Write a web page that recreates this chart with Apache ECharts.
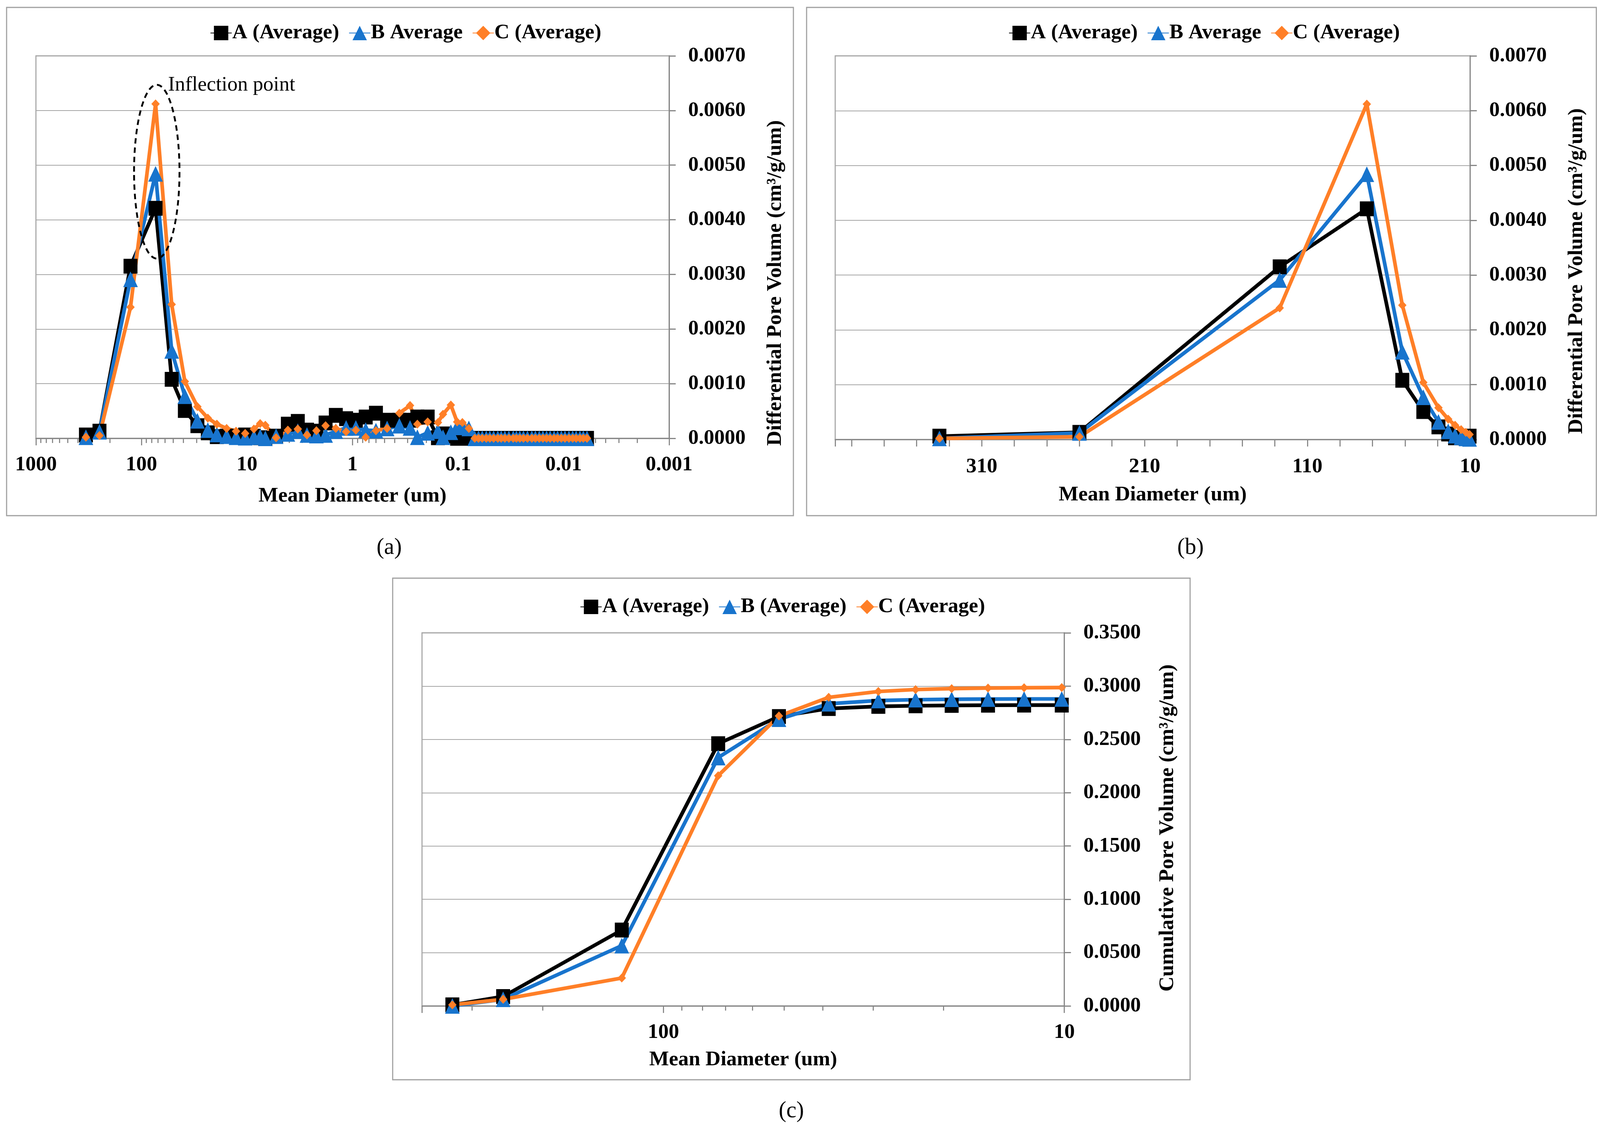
<!DOCTYPE html>
<html>
<head>
<meta charset="utf-8">
<title>Pore size distribution</title>
<script src="https://cdn.jsdelivr.net/npm/echarts@6.0.0/dist/echarts.min.js"></script>
<style>html,body{margin:0;padding:0;background:#fff;overflow:hidden;}</style>
</head>
<body>
<div id="main" style="width:100vw;height:100vh;"></div>
<script type="text/javascript">
// mean diameters (um) of the differential curves, panels (a) and (b)
var diameters = [336, 250, 127, 73.5, 51.7, 38.8, 29.5, 23.5, 19.3, 15.6,
    12.7, 10.4, 8.6, 7.5, 6.7, 5.3, 4.1, 3.3, 2.7, 2.2,
    1.8, 1.44, 1.15, 0.93, 0.75, 0.60, 0.47, 0.36, 0.285, 0.243,
    0.194, 0.155, 0.139, 0.117, 0.102, 0.091, 0.079, 0.0695, 0.064, 0.059,
    0.054, 0.050, 0.046, 0.042, 0.039, 0.036, 0.033, 0.030, 0.028, 0.026,
    0.024, 0.022, 0.020, 0.0185, 0.017, 0.0157, 0.0145, 0.0134, 0.0123, 0.0114,
    0.0105, 0.0097, 0.0089, 0.0082, 0.0076, 0.0070, 0.0065, 0.0060];

// differential pore volume (cm3/g/um)
var diffA = [0.00006, 0.00013, 0.00315, 0.00421, 0.00108, 0.00051, 0.00023, 0.00010, 0.00003, 0.00004,
    0.00004, 0.00006, 0.00004, 0.00001, 0.00000, 0.00004, 0.00026, 0.00031, 0.00015, 0.00013,
    0.00028, 0.00042, 0.00036, 0.00033, 0.00039, 0.00046, 0.00033, 0.00033, 0.00033, 0.00039,
    0.00039, 0.00001, 0.00008, 0.00004, 0.00000, 0.00002, 0.00000, 0.00000, 0, 0,
    0, 0, 0, 0, 0, 0, 0, 0, 0, 0,
    0, 0, 0, 0, 0, 0, 0, 0, 0, 0,
    0, 0, 0, 0, 0, 0, 0, 0];
var diffB = [0.00002, 0.00012, 0.00291, 0.00484, 0.00160, 0.00077, 0.00032, 0.00015, 0.00007, 0.00004,
    0.00002, 0.00001, 0.00002, 0.00003, 0.00000, 0.00004, 0.00008, 0.00013, 0.00006, 0.00005,
    0.00006, 0.00013, 0.00019, 0.00019, 0.00015, 0.00014, 0.00018, 0.00023, 0.00019, 0.00002,
    0.00010, 0.00013, 0.00002, 0.00011, 0.00021, 0.00020, 0.00018, 0.00000, 0, 0,
    0, 0, 0, 0, 0, 0, 0, 0, 0, 0,
    0, 0, 0, 0, 0, 0, 0, 0, 0, 0,
    0, 0, 0, 0, 0, 0, 0, 0];
var diffC = [0.00002, 0.00005, 0.00240, 0.00612, 0.00245, 0.00104, 0.00058, 0.00037, 0.00026, 0.00018,
    0.00013, 0.00009, 0.00017, 0.00027, 0.00024, 0.00001, 0.00015, 0.00017, 0.00006, 0.00014,
    0.00023, 0.00018, 0.00012, 0.00015, 0.00002, 0.00014, 0.00018, 0.00046, 0.00060, 0.00026,
    0.00030, 0.00029, 0.00044, 0.00061, 0.00030, 0.00029, 0.00018, 0.00000, 0, 0,
    0, 0, 0, 0, 0, 0, 0, 0, 0, 0,
    0, 0, 0, 0, 0, 0, 0, 0, 0, 0,
    0, 0, 0, 0, 0, 0, 0, 0];

// cumulative pore volume, panel (c)
var cumDiameters = [336, 251, 127, 73, 51.5, 38.7, 29.1, 23.5, 19.1, 15.5, 12.6, 10.15];
var cumA = [0.0010, 0.0088, 0.0712, 0.2460, 0.2715, 0.2790, 0.2810, 0.2816, 0.2819, 0.2821, 0.2822, 0.2822];
var cumB = [0.0000, 0.0062, 0.0565, 0.2330, 0.2690, 0.2835, 0.2865, 0.2873, 0.2877, 0.2879, 0.2880, 0.2880];
var cumC = [0.0010, 0.0062, 0.0262, 0.2160, 0.2720, 0.2895, 0.2950, 0.2968, 0.2977, 0.2982, 0.2985, 0.2987];

var legendAB = ['A (Average)', 'B Average', 'C (Average)'];
var legendC = ['A (Average)', 'B (Average)', 'C (Average)'];
var panelTags = ['(a)', '(b)', '(c)'];

// annotation on panel (a), in data units
var inflectionCenter = [71.6, 0.00488];
var inflectionTop = [71.6, 0.00647];
var inflectionLabelAt = [56, 0.00646];

// layout is measured on a 4364 x 2908 page, then fitted to the real viewport
var SX = window.innerWidth / 4364;
var SY = window.innerHeight / 2908;
function X(v) { return v * SX; }
function Y(v) { return v * SY; }

var SERIF = '"Liberation Serif", "Times New Roman", serif';
var FS = X(57);
var GRID_GREY = '#a6a6a6';
var AXIS_GREY = '#868686';

var chart = echarts.init(document.getElementById('main'));

function pairs(xs, ys, minX) {
    var out = [];
    for (var i = 0; i < xs.length; i++) {
        if (minX == null || xs[i] >= minX) out.push([xs[i], ys[i]]);
    }
    return out;
}

var looks = [
    {color: '#000000', symbol: 'rect', size: 38},
    {color: '#1874CD', symbol: 'triangle', size: 40},
    {color: '#FF7F27', symbol: 'diamond', size: 23}
];

function lineSeries(name, k, data, axis) {
    return {
        name: name, type: 'line', xAxisIndex: axis, yAxisIndex: axis,
        data: data, symbol: looks[k].symbol,
        symbolSize: [X(looks[k].size), Y(looks[k].size)],
        showAllSymbol: true,
        lineStyle: {color: looks[k].color, width: X(10)},
        itemStyle: {color: looks[k].color, borderWidth: 0},
        emphasis: {disabled: true}
    };
}

// drop = how far below the plot's middle the rotated title sits
function yAxisCfg(idx, max, step, name, gap, drop) {
    return {
        type: 'value', gridIndex: idx, position: 'right', min: 0, max: max, interval: step,
        name: name, nameLocation: 'middle', nameGap: X(gap),
        nameTextStyle: {fontFamily: SERIF, fontWeight: 'bold', fontSize: FS, color: '#000',
            padding: [0, Y(drop * 2), 0, 0]},
        axisLine: {show: true, lineStyle: {color: AXIS_GREY, width: X(3)}},
        axisTick: {show: true, length: X(18), lineStyle: {color: AXIS_GREY, width: Y(3)}},
        axisLabel: {margin: X(52), fontFamily: SERIF, fontWeight: 'bold', fontSize: FS, color: '#000',
            formatter: function (v) { return v.toFixed(4); }},
        splitLine: {show: true, lineStyle: {color: GRID_GREY, width: Y(2)}}
    };
}

function xName(gap) {
    return {
        name: 'Mean Diameter (um)', nameLocation: 'middle', nameGap: Y(gap),
        nameTextStyle: {fontFamily: SERIF, fontWeight: 'bold', fontSize: FS, color: '#000'},
        axisLine: {show: true, lineStyle: {color: AXIS_GREY, width: Y(3)}},
        axisTick: {show: true, length: Y(18), lineStyle: {color: AXIS_GREY, width: X(3)}},
        splitLine: {show: false}
    };
}

function numLabel(v) { return String(+Number(v).toPrecision(6)); }

function xLabel(margin, hideMax, fmt) {
    var o = {margin: Y(margin), fontFamily: SERIF, fontWeight: 'bold', fontSize: FS, color: '#000'};
    if (hideMax) o.showMaxLabel = false;
    if (fmt) o.formatter = fmt;
    return o;
}

var xa = Object.assign(xName(122), {
    type: 'log', logBase: 10, gridIndex: 0, min: 0.001, max: 1000, inverse: true,
    minorTick: {show: true, splitNumber: 9, length: Y(12), lineStyle: {color: AXIS_GREY, width: X(3)}},
    axisLabel: xLabel(42, false, numLabel)
});
var xb = Object.assign(xName(116), {
    type: 'value', gridIndex: 1, min: 10, max: 400, interval: 100, inverse: true,
    minorTick: {show: true, splitNumber: 5, length: Y(18), lineStyle: {color: AXIS_GREY, width: X(3)}},
    axisLabel: xLabel(44, true, null)
});
var xc = Object.assign(xName(112), {
    type: 'log', logBase: 10, gridIndex: 2, min: 10, max: 400, inverse: true,
    minorTick: {show: true, splitNumber: 9, length: Y(12), lineStyle: {color: AXIS_GREY, width: X(3)}},
    axisLabel: xLabel(42, true, numLabel)
});

function legendCfg(names, left, top) {
    return {
        data: names, left: X(left), top: Y(top), orient: 'horizontal',
        itemWidth: X(58), itemHeight: Y(46), itemGap: X(26), padding: 0,
        textStyle: {fontFamily: SERIF, fontWeight: 'bold', fontSize: FS, color: '#000', padding: [0, 0, 0, -X(4)]}
    };
}

function tagCfg(text, left, top) {
    return {text: text, left: X(left), top: Y(top), padding: 0,
        textStyle: {fontFamily: SERIF, fontWeight: 'normal', fontSize: X(62), color: '#000'}};
}

function frame(id, x, y, w, h) {
    return {type: 'rect', id: id, shape: {x: X(x), y: Y(y), width: X(w), height: Y(h)}, silent: true,
        style: {fill: 'none', stroke: '#a0a0a0', lineWidth: X(3)}, z: -1};
}

function gridAt(left, top, width, height) {
    return {left: X(left), top: Y(top), width: X(width), height: Y(height),
        show: true, borderColor: GRID_GREY, borderWidth: X(3), backgroundColor: '#fff'};
}

var option = {
    backgroundColor: '#ffffff',
    animation: false,
    title: [tagCfg(panelTags[0], 1027, 1374), tagCfg(panelTags[1], 3211, 1374), tagCfg(panelTags[2], 2124, 2816)],
    legend: [legendCfg(legendAB, 573, 58), legendCfg(legendAB, 2751, 58), legendCfg(legendC, 1582, 1527)],
    grid: [
        gridAt(98, 143, 1727, 979),
        gridAt(2278, 143, 1732, 982),
        gridAt(1151, 1620, 1752, 955)
    ],
    xAxis: [xa, xb, xc],
    yAxis: [
        yAxisCfg(0, 0.007, 0.001, 'Differential Pore Volume (cm³/g/um)', 262, 92),
        yAxisCfg(1, 0.007, 0.001, 'Differential Pore Volume (cm³/g/um)', 262, 60),
        yAxisCfg(2, 0.35, 0.05, 'Cumulative Pore Volume (cm³/g/um)', 254, 22)
    ],
    graphic: {elements: [
        frame('fa', 18, 19, 2146, 1301),
        frame('fb', 2200, 19, 2154, 1301),
        frame('fc', 1071, 1480, 2175, 1284)
    ]},
    series: [
        lineSeries(legendAB[0], 0, pairs(diameters, diffA), 0),
        lineSeries(legendAB[1], 1, pairs(diameters, diffB), 0),
        lineSeries(legendAB[2], 2, pairs(diameters, diffC), 0),
        lineSeries(legendAB[0], 0, pairs(diameters, diffA, 10), 1),
        lineSeries(legendAB[1], 1, pairs(diameters, diffB, 10), 1),
        lineSeries(legendAB[2], 2, pairs(diameters, diffC, 10), 1),
        lineSeries(legendC[0], 0, pairs(cumDiameters, cumA), 2),
        lineSeries(legendC[1], 1, pairs(cumDiameters, cumB), 2),
        lineSeries(legendC[2], 2, pairs(cumDiameters, cumC), 2)
    ]
};

chart.setOption(option);

// dashed ellipse and label, placed through the axes of panel (a)
var ref = {xAxisIndex: 0, yAxisIndex: 0};
var c = chart.convertToPixel(ref, inflectionCenter);
var t = chart.convertToPixel(ref, inflectionTop);
var l = chart.convertToPixel(ref, inflectionLabelAt);
chart.setOption({
    graphic: {elements: [
        {type: 'ellipse', id: 'ring', silent: true, z: 20,
            shape: {cx: c[0], cy: c[1], rx: X(62), ry: c[1] - t[1]},
            style: {fill: 'none', stroke: '#000', lineWidth: X(5), lineDash: [Y(14), Y(10)]}},
        {type: 'text', id: 'ringText', silent: true, z: 20, x: l[0], y: l[1],
            style: {text: 'Inflection point', fontFamily: SERIF, fontSize: X(56), fill: '#000',
                align: 'left', verticalAlign: 'middle'}}
    ]}
});
</script>
</body>
</html>
